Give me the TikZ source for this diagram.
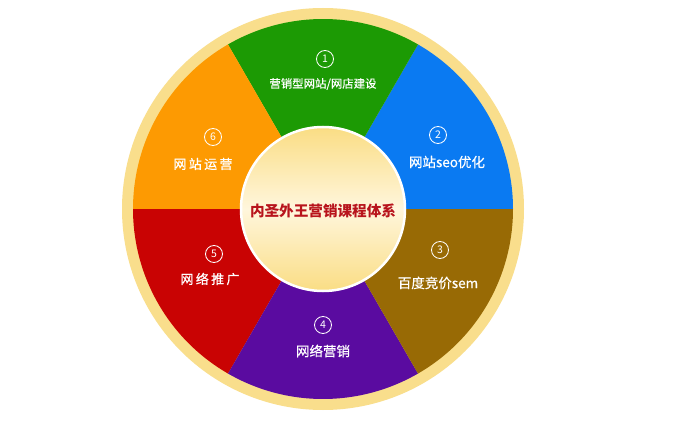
\documentclass[tikz,border=0pt]{standalone}
\usepackage{fontspec}
\newfontfamily\cjk[FakeBold=0.5]{Noto Sans CJK SC}
\newfontfamily\cjktitle{Noto Sans CJK SC}
\newfontfamily\cjkwide[LetterSpace=18,FakeBold=0.8]{Noto Sans CJK SC}
\definecolor{ringY}{HTML}{F9DE8C}
\definecolor{cGreen}{HTML}{1C9A04}
\definecolor{cBlue}{HTML}{0A7AF2}
\definecolor{cBrown}{HTML}{986A05}
\definecolor{cPurple}{HTML}{5A0BA0}
\definecolor{cRed}{HTML}{C90303}
\definecolor{cOrange}{HTML}{FD9A02}
\definecolor{innerY}{HTML}{FADD84}
\definecolor{innerL}{HTML}{FFF6DC}
\definecolor{titleRed}{HTML}{B8141C}
\tikzset{
  numcirc/.style={circle,draw=white,line width=0.8pt,text=white,inner sep=0pt,minimum size=17pt,font=\cjktitle\fontsize{10.5}{11}\selectfont},
  lbl/.style={text=white,inner sep=0pt,font=\cjk\fontsize{13.5}{14}\selectfont},
  lblwide/.style={text=white,inner sep=0pt,font=\cjkwide\fontsize{13}{14}\selectfont},
}
\begin{document}
\begin{tikzpicture}[x=1pt,y=1pt]
\useasboundingbox (0,0) rectangle (697,424);
\fill[white] (0,0) rectangle (697,424);
\coordinate (C) at (323,215);
% outer ring
\fill[ringY] (C) circle (201);
% sectors
\fill[cBlue]   (C) -- ++(0:190)   arc (0:60:190)    -- cycle;
\fill[cGreen]  (C) -- ++(60:190)  arc (60:120:190)  -- cycle;
\fill[cOrange] (C) -- ++(120:190) arc (120:180:190) -- cycle;
\fill[cRed]    (C) -- ++(180:190) arc (180:240:190) -- cycle;
\fill[cPurple] (C) -- ++(240:190) arc (240:300:190) -- cycle;
\fill[cBrown]  (C) -- ++(300:190) arc (300:360:190) -- cycle;
% inner circle
\shade[top color=innerY, bottom color=innerY, middle color=innerL] (C) circle (82);
\draw[white, line width=2.5pt] (C) circle (82);
\node[font=\cjktitle\bfseries\fontsize{14.6}{16}\selectfont, text=titleRed, inner sep=0pt] (title) at (323,213) {内圣外王营销课程体系};
% labels
\node[numcirc] (n1) at (325,365) {1};
\node[lbl, font=\cjk\fontsize{11.4}{13}\selectfont] (t1) at (323,340) {营销型网站/网店建设};
\node[numcirc] (n2) at (438,289) {2};
\node[lbl] (t2) at (447,262) {网站seo优化};
\node[numcirc] (n3) at (440,174) {3};
\node[lbl] (t3) at (438,141) {百度竞价sem};
\node[numcirc] (n4) at (323,99) {4};
\node[lbl] (t4) at (323,73) {网络营销};
\node[numcirc] (n5) at (214,170) {5};
\node[lblwide] (t5) at (210,145) {网络推广};
\node[numcirc] (n6) at (213,287) {6};
\node[lblwide] (t6) at (203,260) {网站运营};
\end{tikzpicture}
\end{document}
